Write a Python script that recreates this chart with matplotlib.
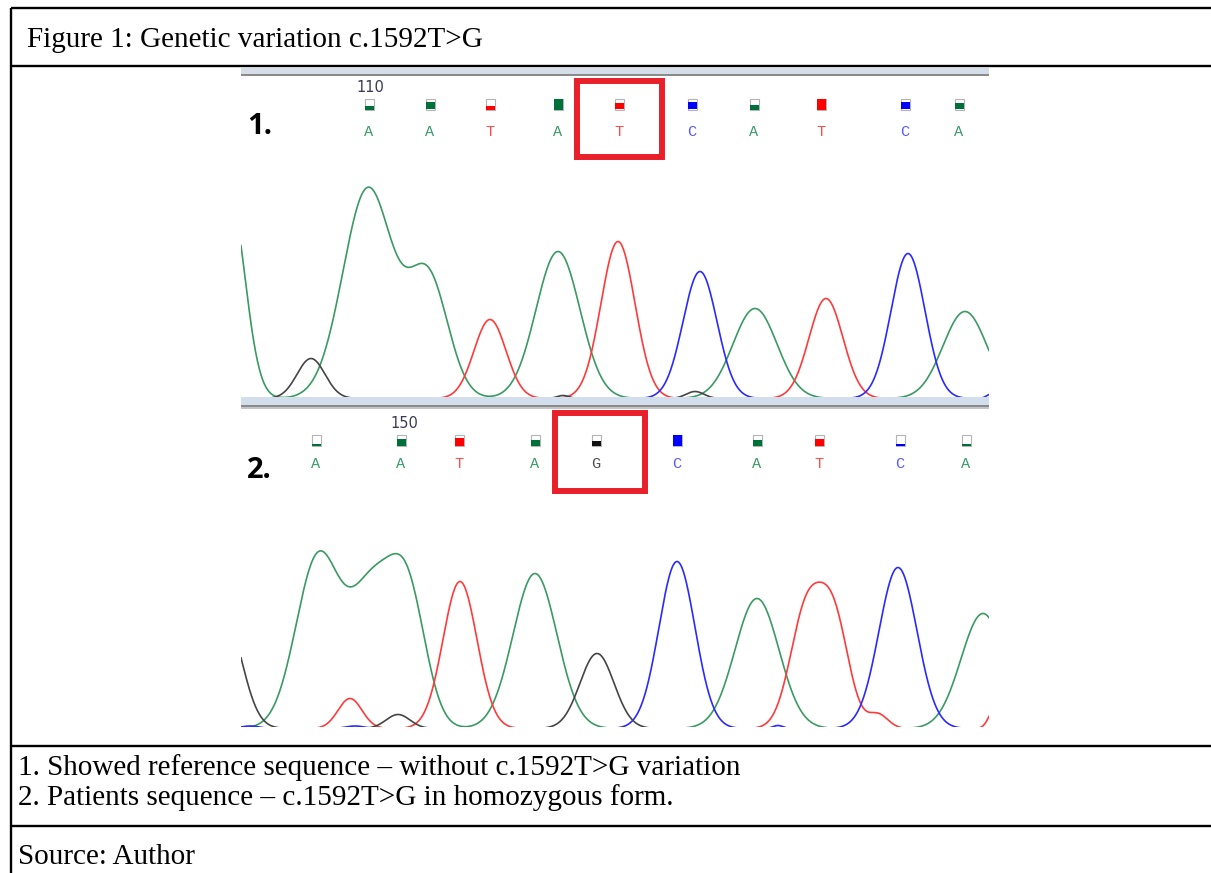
import matplotlib.pyplot as plt
import numpy as np
from matplotlib.patches import Rectangle

W, H = 1211, 873

# peak tables: (scan position, peak height, peak width)
ref_A = [(230, 200, 15), (368, 210, 25), (428, 120, 20), (558, 147, 22), (755, 90, 22), (965, 87, 22)]
ref_T = [(490, 79, 16), (618, 157, 17), (826, 100, 17)]
ref_C = [(700, 127, 17), (908, 145, 17), (990, 4, 4)]
ref_G = [(311, 40, 14), (563, 3, 6), (695, 7, 9)]

pat_A = [(318, 170, 22), (372, 135, 22), (408, 125, 18), (535, 155, 22), (757, 130, 22), (983, 115, 22)]
pat_T = [(350, 30, 12), (460, 147, 17), (806, 115, 16), (834, 105, 15), (878, 14, 10), (995, 20, 6)]
pat_C = [(250, 2.5, 9), (355, 2.5, 9), (677, 167, 18), (778, 3, 5), (898, 161, 19)]
pat_G = [(225, 110, 17), (398, 14, 12), (597, 75, 17)]

# base calls
ref_bases = list("AATATCATCA")
ref_base_x = [369, 430, 490, 558, 619, 692, 754, 821, 905, 959]
ref_quality = [0.3, 0.7, 0.3, 1.0, 0.6, 0.7, 0.4, 1.0, 0.7, 0.6]
pat_bases = list("AATAGCATCA")
pat_base_x = [316, 401, 459, 535, 596, 677, 757, 819, 900, 966]
pat_quality = [0.15, 0.6, 0.7, 0.5, 0.4, 1.0, 0.5, 0.6, 0.1, 0.1]

trace_colors = {"A": "#3a9a62", "T": "#ff3a3a", "C": "#2a2aff", "G": "#454545"}
letter_colors = {"A": "#3a9a6a", "T": "#ff4a4a", "C": "#5a5aff", "G": "#505050"}
bar_colors = {"A": "#00703a", "T": "#ff0000", "C": "#0000ff", "G": "#111111"}

title = "Figure 1: Genetic variation c.1592T>G"
notes = ["1. Showed reference sequence \u2013 without c.1592T>G variation",
         "2. Patients sequence \u2013 c.1592T>G in homozygous form."]
source = "Source: Author"


def trace(x, peaks):
    y = np.zeros_like(x)
    for c, h, w in peaks:
        y += h * np.exp(-((x - c) ** 2) / (2 * w * w))
    return y


fig = plt.figure(figsize=(W / 100, H / 100), dpi=100)
bg = fig.add_axes([0, 0, 1, 1])
bg.set_xlim(0, W)
bg.set_ylim(H, 0)
bg.axis("off")

# table frame
for y in [7.5, 66, 746, 826]:
    bg.plot([11, W], [y, y], color="black", lw=1.7, solid_capstyle="butt")
bg.plot([11, 11], [7.5, H], color="black", lw=1.7, solid_capstyle="butt")

serif = "Liberation Serif"
bg.text(27, 47, title, fontsize=21, family=serif, va="baseline")
bg.text(18, 775, notes[0], fontsize=21, family=serif, va="baseline")
bg.text(18, 805, notes[1], fontsize=21, family=serif, va="baseline")
bg.text(18, 864, source, fontsize=21, family=serif, va="baseline")

# grey separator bars of the viewer
bg.add_patch(Rectangle((241, 68), 748, 6, color="#d4dde8", lw=0))
bg.add_patch(Rectangle((241, 74), 748, 2, color="#8a8a8a", lw=0))
bg.add_patch(Rectangle((241, 397), 748, 8, color="#d2deeb", lw=0))
bg.add_patch(Rectangle((241, 405), 748, 2, color="#8a8a8a", lw=0))
bg.add_patch(Rectangle((241, 407), 748, 2, color="#c4c4c4", lw=0))


def base_row(bases, xs, qual, y_box, y_letter):
    for b, x, q in zip(bases, xs, qual):
        bg.add_patch(Rectangle((x - 4.5, y_box - 5.5), 9, 11, facecolor="white",
                               edgecolor="#b4b4b4", lw=0.8))
        bg.add_patch(Rectangle((x - 4.5, y_box + 5.5 - 11 * q), 9, 11 * q,
                               facecolor=bar_colors[b], lw=0))
        bg.text(x, y_letter, b, fontsize=11, family="Liberation Mono",
                color=letter_colors[b], ha="center", va="center")


base_row(ref_bases, ref_base_x, ref_quality, 104, 132)
base_row(pat_bases, pat_base_x, pat_quality, 440, 464)

bg.text(370, 88, "110", fontsize=10.5, color="#3a3a55", ha="center", va="center")
bg.text(404, 423, "150", fontsize=10.5, color="#3a3a55", ha="center", va="center")
bg.text(247, 127, "1.", fontsize=21, weight="bold", family="Open Sans", va="center")
bg.text(247, 470, "2.", fontsize=21, weight="bold", family="Open Sans", va="center")

bg.add_patch(Rectangle((577, 81), 85, 76, fill=False, edgecolor="#e8202a", lw=4.3))
bg.add_patch(Rectangle((555, 413), 90, 78, fill=False, edgecolor="#e8202a", lw=4.3))

# chromatogram traces
xs = np.linspace(241, 989, 1600)
panels = [((77, 397), [ref_A, ref_T, ref_C, ref_G]),
          ((409, 727), [pat_A, pat_T, pat_C, pat_G])]
for (top, bottom), peak_sets in panels:
    ax = fig.add_axes([241 / W, 1 - bottom / H, 748 / W, (bottom - top) / H])
    ax.set_xlim(241, 989)
    ax.set_ylim(1.5, 1.5 + (bottom - top))
    ax.axis("off")
    ax.patch.set_alpha(0)
    for base, peaks in zip("ATCG", peak_sets):
        ax.plot(xs, trace(xs, peaks), color=trace_colors[base], lw=1.2)

fig.savefig("out.png", dpi=100)
